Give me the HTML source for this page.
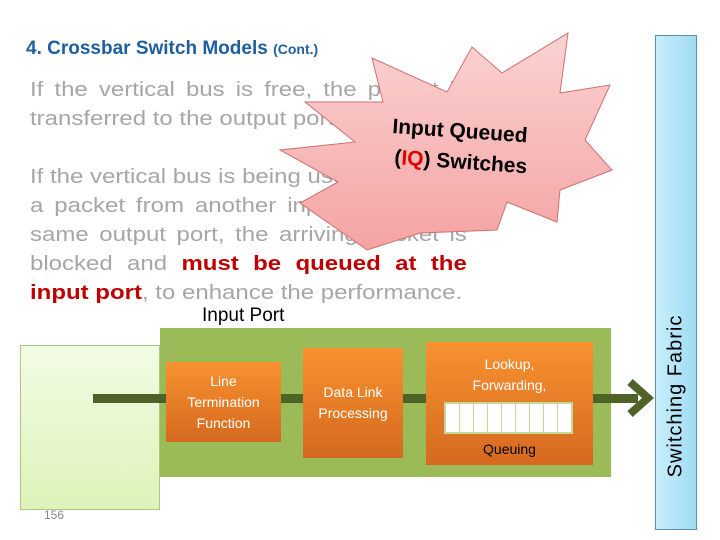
<html><head><style>
body{margin:0;width:720px;height:540px;background:#fff;position:relative;overflow:hidden;font-family:"Liberation Sans",sans-serif}
.t{position:absolute;left:26px;top:38px;font-size:19px;font-weight:bold;color:#1f5f9f}
.l{position:absolute;left:30px;width:364px;font-size:20px;color:#a6a6a6;text-align:justify;text-align-last:justify;white-space:nowrap;line-height:22px;transform:scaleX(1.2);transform-origin:0 0}
.r{color:#c00000;font-weight:bold}
.ob{position:absolute;background:linear-gradient(#f89230,#d5691f);color:#fff;font-size:14px;text-align:center;display:flex;align-items:center;justify-content:center;line-height:21px}
</style></head><body>
<div class="t">4. Crossbar Switch Models <span style="font-size:14px">(Cont.)</span></div>
<div class="l" style="top:79px">If the vertical bus is free, the packet is</div>
<div class="l" style="top:108px;text-align-last:left">transferred to the output port.</div>
<div class="l" style="top:166px;text-align-last:left">If the vertical bus is being used by</div>
<div class="l" style="top:195px">a packet from another input port to the</div>
<div class="l" style="top:224px">same output port, the arriving packet is</div>
<div class="l" style="top:253px">blocked and <span class="r">must be queued at the</span></div>
<div class="l" style="top:282px;text-align-last:left"><span class="r">input port</span>, to enhance the performance.</div>
<svg style="position:absolute;left:0;top:0" width="720" height="540">
<defs><linearGradient id="g" x1="0" y1="0" x2="0" y2="1"><stop offset="0" stop-color="#fbd3d3"/><stop offset="1" stop-color="#f5a3a3"/></linearGradient></defs>
<polygon points="372,58 447,92 472,47 502,73 568,33 560,93 610,85 585,140 612,170 560,190 557,222 507,202 497,230 420,233 367,250 300,203 338,182 280,150 355,142 305,102 383,102" fill="url(#g)" stroke="#d07070" stroke-width="1"/>
<text x="392" y="133" font-family="Liberation Sans" font-weight="bold" font-size="21" transform="rotate(4 392 133)">Input Queued</text>
<text x="394" y="164" font-family="Liberation Sans" font-weight="bold" font-size="21" transform="rotate(4 394 164)">(<tspan fill="#e00000">IQ</tspan>) Switches</text>
</svg>
<div style="position:absolute;left:202px;top:305px;font-size:19px;color:#000">Input Port</div>
<div style="position:absolute;left:20px;top:345px;width:140px;height:165px;background:linear-gradient(#f2fce4,#ddf3b8);border:1px solid #a8c888;box-sizing:border-box"></div>
<div style="position:absolute;left:160px;top:328px;width:451px;height:149px;background:#9bbb59"></div>
<div style="position:absolute;left:93px;top:394px;width:545px;height:9px;background:#4f6228"></div>
<svg style="position:absolute;left:0;top:0" width="720" height="540"><polyline points="630,382 648,398 630,414" fill="none" stroke="#4f6228" stroke-width="8"/></svg>
<div class="ob" style="left:166px;top:362px;width:115px;height:80px">Line<br>Termination<br>Function</div>
<div class="ob" style="left:303px;top:348px;width:100px;height:110px">Data Link<br>Processing</div>
<div class="ob" style="left:426px;top:342px;width:167px;height:123px;display:block">
<div style="margin-top:12px">Lookup,<br>Forwarding,</div>
<div style="position:absolute;left:18px;top:60px;width:129px;height:32px;background:#c4d79b;display:flex;padding:2px;box-sizing:border-box;gap:1px">
<div style="flex:1;background:#fff"></div><div style="flex:1;background:#fff"></div><div style="flex:1;background:#fff"></div><div style="flex:1;background:#fff"></div><div style="flex:1;background:#fff"></div><div style="flex:1;background:#fff"></div><div style="flex:1;background:#fff"></div><div style="flex:1;background:#fff"></div><div style="flex:1;background:#fff"></div></div>
<div style="position:absolute;left:0;width:100%;top:97px;color:#000">Queuing</div></div>
<div style="position:absolute;left:655px;top:35px;width:42px;height:495px;background:linear-gradient(90deg,#c9eefb,#9fdcf3);border:1px solid #5a8fb0;box-sizing:border-box"></div>
<div style="position:absolute;left:676px;top:396px;transform:translate(-50%,-50%) rotate(-90deg);font-size:20px;white-space:nowrap;letter-spacing:1px">Switching Fabric</div>
<div style="position:absolute;left:44px;top:508px;font-size:12px;color:#888">156</div>
</body></html>
